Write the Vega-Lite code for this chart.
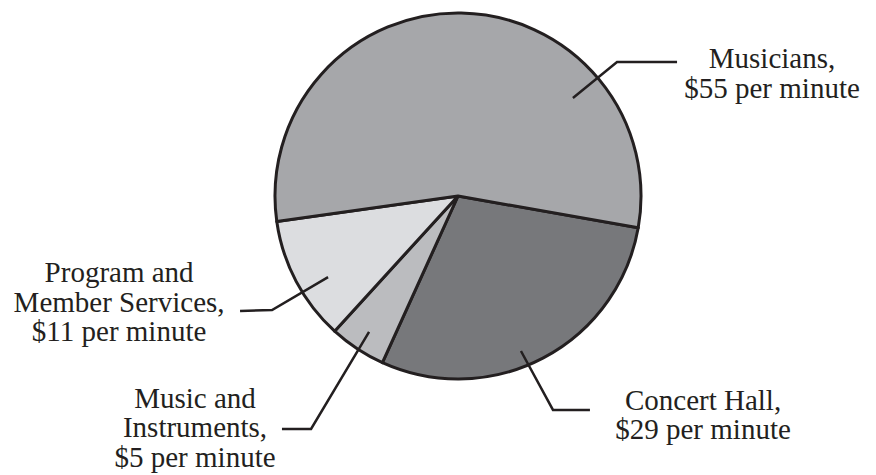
{
  "$schema": "https://vega.github.io/schema/vega-lite/v6.json",
  "width": 836,
  "height": 392,
  "autosize": {"type": "none"},
  "padding": {"left": 40, "top": 0, "right": 0, "bottom": 83},
  "background": "white",
  "config": {"view": {"stroke": null}},
  "datasets": {
    "slices": [
      {"category": "Concert Hall", "amount": 29, "seq": 1},
      {"category": "Music and Instruments", "amount": 5, "seq": 2},
      {"category": "Program and Member Services", "amount": 11, "seq": 3},
      {"category": "Musicians", "amount": 55, "seq": 4}
    ],
    "labels": [
      {"category": "Musicians", "label": "Musicians,\n$55 per minute", "x": 1.716, "y": 0.699},
      {"category": "Program and Member Services", "label": "Program and\nMember Services,\n$11 per minute", "x": -1.852, "y": -0.470},
      {"category": "Music and Instruments", "label": "Music and\nInstruments,\n$5 per minute", "x": -1.437, "y": -1.158},
      {"category": "Concert Hall", "label": "Concert Hall,\n$29 per minute", "x": 1.339, "y": -1.169}
    ],
    "leaders": [
      {"category": "Musicians", "pt": 1, "x": 0.628, "y": 0.536},
      {"category": "Musicians", "pt": 2, "x": 0.869, "y": 0.732},
      {"category": "Musicians", "pt": 3, "x": 1.197, "y": 0.732},
      {"category": "Program and Member Services", "pt": 1, "x": -0.710, "y": -0.443},
      {"category": "Program and Member Services", "pt": 2, "x": -1.016, "y": -0.623},
      {"category": "Program and Member Services", "pt": 3, "x": -1.191, "y": -0.628},
      {"category": "Music and Instruments", "pt": 1, "x": -0.486, "y": -0.743},
      {"category": "Music and Instruments", "pt": 2, "x": -0.803, "y": -1.273},
      {"category": "Music and Instruments", "pt": 3, "x": -0.962, "y": -1.273},
      {"category": "Concert Hall", "pt": 1, "x": 0.344, "y": -0.847},
      {"category": "Concert Hall", "pt": 2, "x": 0.519, "y": -1.169},
      {"category": "Concert Hall", "pt": 3, "x": 0.721, "y": -1.169}
    ]
  },
  "layer": [
    {
      "data": {"name": "slices"},
      "mark": {"type": "arc", "outerRadius": 183, "stroke": "#231f20", "strokeWidth": 3, "strokeJoin": "round"},
      "encoding": {
        "theta": {"field": "amount", "type": "quantitative", "stack": true, "scale": {"range": [1.7453, 8.0285]}},
        "color": {
          "field": "category",
          "type": "nominal",
          "scale": {
            "domain": ["Concert Hall", "Music and Instruments", "Program and Member Services", "Musicians"],
            "range": ["#77787b", "#bbbcbf", "#dcdde0", "#a6a7aa"]
          },
          "legend": null
        },
        "order": {"field": "seq", "type": "quantitative"}
      }
    },
    {
      "data": {"name": "leaders"},
      "mark": {"type": "line", "stroke": "#231f20", "strokeWidth": 2.5, "strokeJoin": "miter"},
      "encoding": {
        "x": {"field": "x", "type": "quantitative", "scale": {"domain": [-2.2842, 2.2842], "nice": false, "zero": false}, "axis": null},
        "y": {"field": "y", "type": "quantitative", "scale": {"domain": [-1.0710, 1.0710], "nice": false, "zero": false}, "axis": null},
        "detail": {"field": "category", "type": "nominal"},
        "order": {"field": "pt", "type": "quantitative"}
      }
    },
    {
      "data": {"name": "labels"},
      "mark": {"type": "text", "font": "Liberation Serif", "fontSize": 29, "lineHeight": 29.5, "align": "center", "baseline": "alphabetic", "lineBreak": "\n", "color": "#231f20"},
      "encoding": {
        "x": {"field": "x", "type": "quantitative", "scale": {"domain": [-2.2842, 2.2842], "nice": false, "zero": false}, "axis": null},
        "y": {"field": "y", "type": "quantitative", "scale": {"domain": [-1.0710, 1.0710], "nice": false, "zero": false}, "axis": null},
        "text": {"field": "label", "type": "nominal"}
      }
    }
  ]
}
